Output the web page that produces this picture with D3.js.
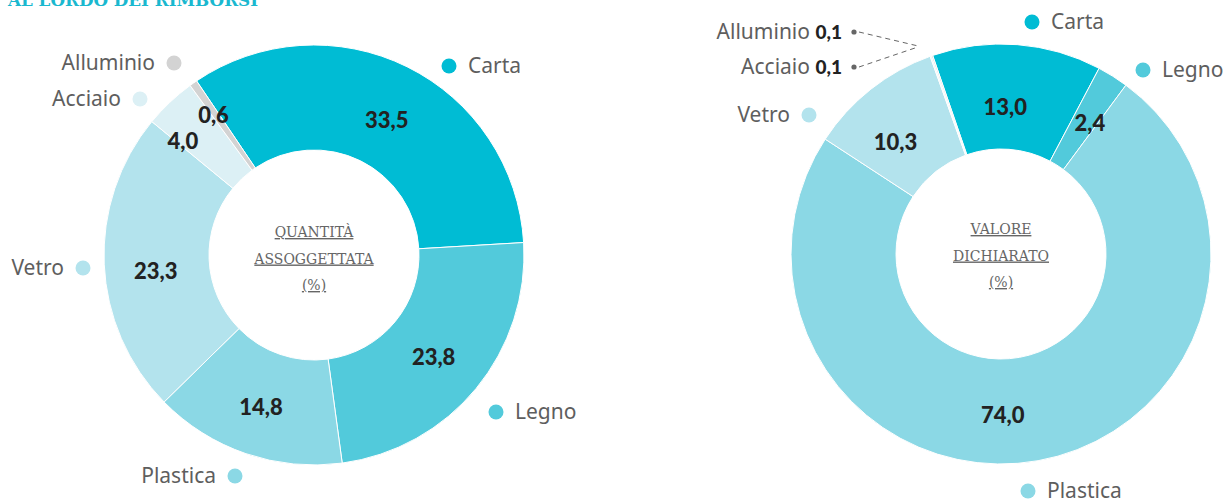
<!DOCTYPE html>
<html>
<head>
<meta charset="utf-8">
<script src="https://cdn.jsdelivr.net/npm/d3@7"></script>
<style>
  html, body { margin: 0; padding: 0; background: #fff; }
  svg { display: block; }
  .cat { font-family: "Noto Sans", sans-serif; font-size: 21px; fill: #5e5e5e; }
  .val { font-family: Lato, sans-serif; font-weight: 900; font-size: 22px; fill: #222; }
  .center { font-family: "DejaVu Serif", serif; font-size: 14px; fill: #666; text-decoration: underline; }
</style>
</head>
<body>
<div id="chart"></div>
<script>
const categories = ['Carta', 'Legno', 'Plastica', 'Vetro', 'Acciaio', 'Alluminio'];
const quantita   = [33.5, 23.8, 14.8, 23.3, 4.0, 0.6];
const valore     = [13.0, 2.4, 74.0, 10.3, 0.1, 0.1];
const colours    = ['#00bcd4', '#52cadb', '#8bd8e5', '#b3e3ed', '#dcf0f5', '#d3d3d3'];
const titleText  = 'AL LORDO DEI RIMBORSI';

const width = 1231, height = 502;
const outerR = 210, innerR = 105;
const fmt = d3.format('.1f');
const itNum = v => fmt(v).replace('.', ',');

const svg = d3.select('#chart').append('svg')
  .attr('width', width)
  .attr('height', height);

// title, cut by the top edge like in the source page
svg.append('text')
  .attr('x', 8).attr('y', 6)
  .attr('textLength', 250).attr('lengthAdjust', 'spacingAndGlyphs')
  .style('font-family', '"DejaVu Serif", serif')
  .style('font-weight', 'bold')
  .style('font-size', '17px')
  .attr('fill', '#1ab8cf')
  .text(titleText);

const arc = d3.arc().innerRadius(innerR).outerRadius(outerR);

function donut(opts) {
  const g = svg.append('g').attr('transform', `translate(${opts.cx},${opts.cy})`);
  const start = opts.start * Math.PI / 180;
  const pie = d3.pie().sort(null).value(d => d.v)
    .startAngle(start).endAngle(start + 2 * Math.PI);
  const data = categories.map((c, i) => ({ c, v: opts.values[i], col: colours[i], i }));
  const arcs = pie(data);

  g.selectAll('path.slice').data(arcs).enter().append('path')
    .attr('class', 'slice')
    .attr('d', arc)
    .attr('fill', d => d.data.col)
    .attr('stroke', '#fff')
    .attr('stroke-width', 1);

  // values inside the ring
  g.selectAll('text.val').data(arcs.filter(d => opts.nudge[d.index])).enter().append('text')
    .attr('class', 'val')
    .attr('text-anchor', 'middle')
    .attr('x', d => arc.centroid(d)[0] + opts.nudge[d.index][0])
    .attr('y', d => arc.centroid(d)[1] + opts.nudge[d.index][1] + 8)
    .text(d => itNum(d.data.v));

  // category labels
  arcs.forEach(d => {
    const lab = opts.labels[d.index];
    const lg = g.append('g');
    if (lab.small) {
      lg.append('circle').attr('cx', lab.x).attr('cy', lab.y).attr('r', 2.6).attr('fill', '#666');
      const a = (d.startAngle + d.endAngle) / 2;
      const rr = outerR + 13;
      lg.append('line')
        .attr('x1', lab.x + 5).attr('y1', lab.y)
        .attr('x2', rr * Math.sin(a) - 8).attr('y2', -rr * Math.cos(a) + 3)
        .attr('stroke', '#666').attr('stroke-width', 1).attr('stroke-dasharray', '5,4');
      const t = lg.append('text').attr('class', 'cat')
        .attr('x', lab.x - 12).attr('y', lab.y + 7).attr('text-anchor', 'end');
      t.append('tspan').text(d.data.c + ' ');
      t.append('tspan').attr('class', 'val').style('font-size', '19px').text(itNum(d.data.v));
      return;
    }
    lg.append('circle').attr('cx', lab.x).attr('cy', lab.y).attr('r', 7.5).attr('fill', d.data.col);
    lg.append('text').attr('class', 'cat')
      .attr('x', lab.side > 0 ? lab.x + 19 : lab.x - 19)
      .attr('y', lab.y + 7)
      .attr('text-anchor', lab.side > 0 ? 'start' : 'end')
      .text(d.data.c);
  });

  opts.centre.forEach((s, i) => {
    g.append('text').attr('class', 'center')
      .attr('text-anchor', 'middle')
      .attr('x', 0)
      .attr('y', opts.centreY + i * 26.5)
      .text(s);
  });
}

donut({
  cx: 314, cy: 255, start: -34, values: quantita,
  nudge: [[3, 6], [-2, 2], [-2, 3], [-1, 9], [-23, 0], [-10, -11]],
  labels: [
    { x: 135, y: -189, side: 1 },
    { x: 182, y: 157, side: 1 },
    { x: -79, y: 221, side: -1 },
    { x: -231, y: 13, side: -1 },
    { x: -174, y: -156, side: -1 },
    { x: -140, y: -192, side: -1 }
  ],
  centre: ['QUANTITÀ', 'ASSOGGETTATA', '(%)'],
  centreY: -18
});

donut({
  cx: 1001, cy: 254, start: -19, values: valore,
  nudge: [[-8, 10], [5, 2], [-26, 6], [-8, 12], null, null],
  labels: [
    { x: 31, y: -232, side: 1 },
    { x: 142, y: -184, side: 1 },
    { x: 27, y: 237, side: 1 },
    { x: -192, y: -139, side: -1 },
    { x: -147, y: -187, small: true },
    { x: -147, y: -222, small: true }
  ],
  centre: ['VALORE', 'DICHIARATO', '(%)'],
  centreY: -20
});
</script>
</body>
</html>
